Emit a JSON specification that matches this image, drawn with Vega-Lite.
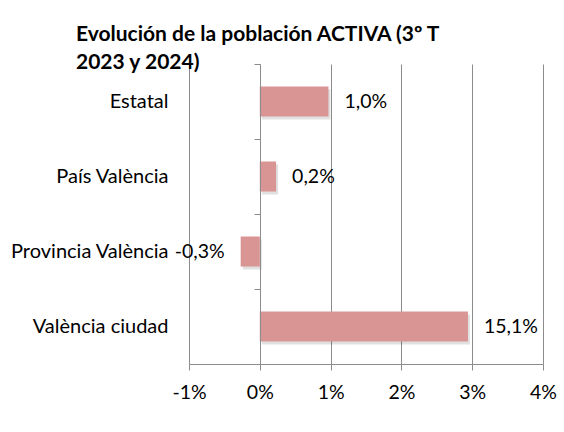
{
  "$schema": "https://vega.github.io/schema/vega-lite/v6.json",
  "width": 354,
  "height": 300,
  "autosize": {"type": "none"},
  "padding": {"left": 189, "top": 64, "right": 21, "bottom": 68},
  "background": "white",
  "title": {
    "text": ["Evolución de la población ACTIVA (3º T", "2023 y 2024)"],
    "anchor": "start",
    "frame": "group",
    "dx": -113,
    "font": "Lato",
    "fontSize": 21,
    "fontWeight": "bold",
    "color": "#000000",
    "lineHeight": 28,
    "offset": -26,
    "baseline": "alphabetic"
  },
  "data": {
    "values": [
      {"region": "Estatal", "value": 0.97, "label": "1,0%"},
      {"region": "País València", "value": 0.23, "label": "0,2%"},
      {"region": "Provincia València", "value": -0.27, "label": "-0,3%"},
      {"region": "València ciudad", "value": 2.94, "label": "15,1%"}
    ]
  },
  "config": {
    "view": {"stroke": null},
    "text": {"font": "Lato", "fontSize": 19.5, "color": "#000000"}
  },
  "layer": [
    {
      "mark": {"type": "bar", "color": "#000000", "opacity": 0.12, "xOffset": 2, "yOffset": 3, "height": {"band": 0.4}},
      "encoding": {
        "y": {
          "field": "region", "type": "nominal", "sort": null,
          "scale": {"paddingInner": 0, "paddingOuter": 0},
          "axis": {
            "title": null, "domain": false, "ticks": false, "tickSize": 0,
            "labelPadding": 21, "labelFont": "Lato", "labelFontSize": 20,
            "labelColor": "#000000", "labelLimit": 300
          }
        },
        "x": {
          "field": "value", "type": "quantitative",
          "scale": {"domain": [-1, 4], "nice": false, "zero": false},
          "axis": {
            "title": null, "values": [-1, 0, 1, 2, 3, 4],
            "labelExpr": "datum.value + '%'",
            "grid": true, "gridColor": "#8c8c8c", "gridWidth": 1,
            "domainColor": "#8c8c8c", "tickColor": "#8c8c8c", "tickSize": 6,
            "labelPadding": 13, "labelFont": "Lato", "labelFontSize": 19.5,
            "labelColor": "#000000", "labelFlush": false
          }
        }
      }
    },
    {
      "mark": {"type": "bar", "color": "#D99594", "height": {"band": 0.4}},
      "encoding": {
        "y": {"field": "region", "type": "nominal", "sort": null, "axis": null},
        "x": {"field": "value", "type": "quantitative"}
      }
    },
    {
      "transform": [{"filter": "datum.value >= 0"}],
      "mark": {"type": "text", "align": "left", "baseline": "middle", "dx": 16},
      "encoding": {
        "y": {
          "field": "region", "type": "nominal", "sort": null,
          "axis": {
            "orient": "left", "offset": -71, "title": null, "labels": false,
            "domain": true, "domainColor": "#8c8c8c", "ticks": true,
            "tickColor": "#8c8c8c", "tickSize": 6, "bandPosition": 0,
            "zindex": 1
          }
        },
        "x": {"field": "value", "type": "quantitative"},
        "text": {"field": "label"}
      }
    },
    {
      "transform": [{"filter": "datum.value < 0"}],
      "mark": {"type": "text", "align": "right", "baseline": "middle", "dx": -16},
      "encoding": {
        "y": {"field": "region", "type": "nominal", "sort": null, "axis": null},
        "x": {"field": "value", "type": "quantitative"},
        "text": {"field": "label"}
      }
    }
  ],
  "resolve": {"axis": {"y": "independent"}}
}
